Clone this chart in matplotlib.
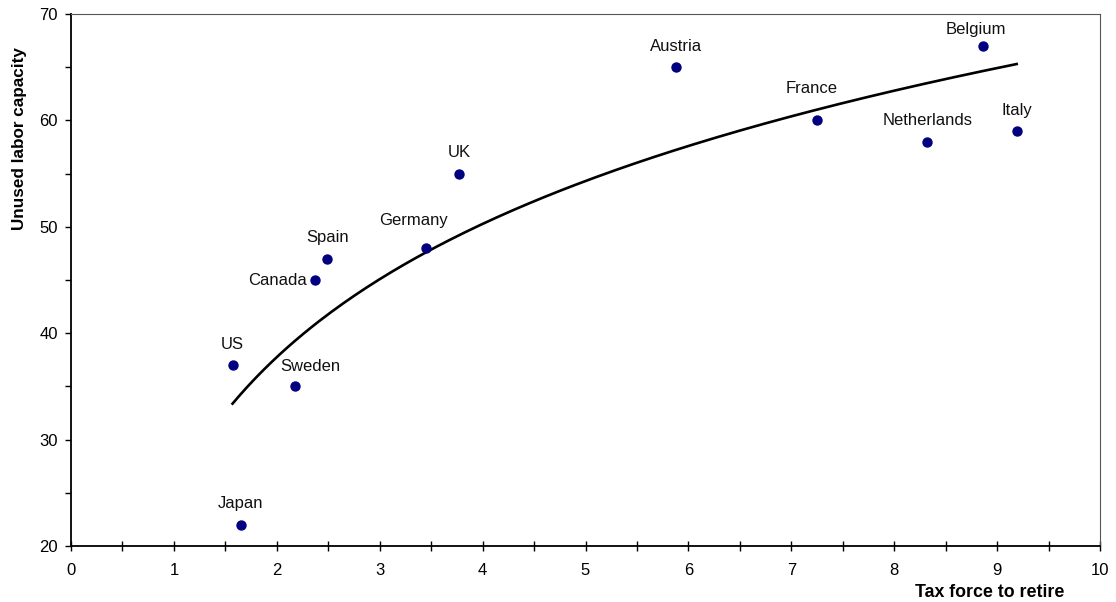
import numpy as np
import matplotlib.pyplot as plt

plt.rcParams['font.family'] = ['Liberation Sans', 'DejaVu Sans']
plt.rcParams['font.size'] = 12

countries = ['US', 'Japan', 'Sweden', 'Canada', 'Spain', 'Germany', 'UK',
             'Austria', 'France', 'Netherlands', 'Belgium', 'Italy']
tax_force = [1.57, 1.65, 2.18, 2.37, 2.49, 3.45, 3.77, 5.88, 7.25, 8.32, 8.86, 9.19]
unused_capacity = [37, 22, 35, 45, 47, 48, 55, 65, 60, 58, 67, 59]

# label offsets in points (dx, dy) and horizontal alignment
offsets = {
    'US': (0, 15, 'center'), 'Japan': (0, 15, 'center'), 'Sweden': (11, 14, 'center'),
    'Canada': (-6, 0, 'right'), 'Spain': (0, 15, 'center'), 'Germany': (-9, 20, 'center'),
    'UK': (0, 15, 'center'), 'Austria': (0, 15, 'center'), 'France': (-4, 23, 'center'),
    'Netherlands': (0, 15, 'center'), 'Belgium': (-5, 12, 'center'), 'Italy': (0, 15, 'center'),
}

x = np.array(tax_force)
y = np.array(unused_capacity)

# logarithmic trendline
b, a = np.polyfit(np.log(x), y, 1)
xs = np.linspace(x.min(), x.max(), 200)
ys = a + b * np.log(xs)

fig = plt.figure(figsize=(11.16, 6.02), dpi=100)
ax = fig.add_axes([0.0636, 0.093, 0.9221, 0.8837])

ax.plot(xs, ys, color='black', lw=1.9, zorder=2)
ax.scatter(x, y, s=42, color='#000080', zorder=3)

for c, xi, yi in zip(countries, x, y):
    dx, dy, ha = offsets[c]
    ax.annotate(c, (xi, yi), xytext=(dx, dy), textcoords='offset points',
                ha=ha, va='center', fontsize=12, color='#111111')

ax.set_xlim(0, 10)
ax.set_ylim(20, 70)
ax.set_xticks(np.arange(0, 11, 1))
ax.set_xticks(np.arange(0.5, 10, 1), minor=True)
ax.set_yticks(np.arange(20, 71, 10))
ax.set_yticks(np.arange(25, 70, 10), minor=True)
ax.tick_params(axis='x', which='both', direction='inout', length=7, width=1, pad=9,
               labelsize=12)
ax.tick_params(axis='y', which='both', direction='out', length=4.5, width=1, pad=5,
               labelsize=12)

for s in ['top', 'right']:
    ax.spines[s].set_color('#555555')
    ax.spines[s].set_linewidth(0.8)
for s in ['left', 'bottom']:
    ax.spines[s].set_linewidth(1.3)

ax.set_xlabel('Tax force to retire', fontweight='bold', fontsize=12.8)
ax.xaxis.set_label_coords(0.965, -0.0865)
ax.xaxis.label.set_horizontalalignment('right')
ax.xaxis.label.set_verticalalignment('center')
ax.set_ylabel('Unused labor capacity', fontweight='bold', fontsize=12.3)
ax.yaxis.set_label_coords(-0.0573, 0.938)
ax.yaxis.label.set_verticalalignment('top')
ax.yaxis.label.set_horizontalalignment('right')

fig.savefig('out.png', dpi=100)
